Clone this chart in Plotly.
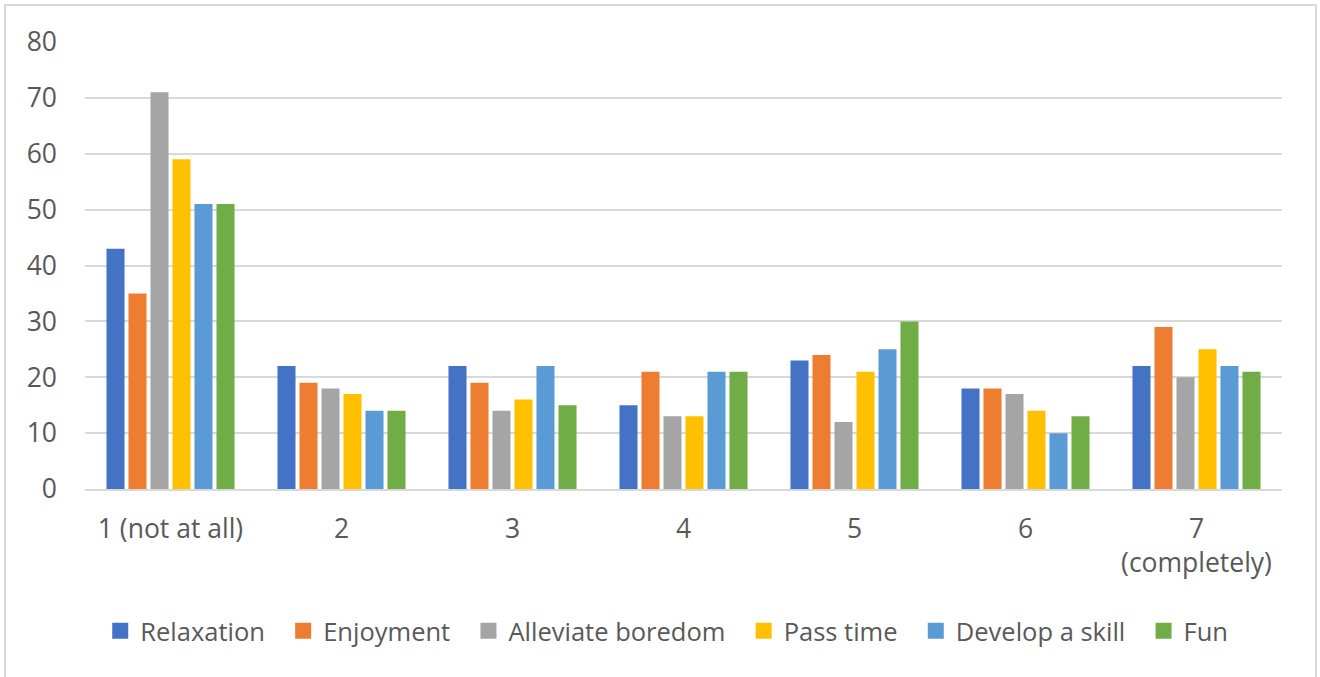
import plotly.graph_objects as go

categories = ["1 (not at all)", "2", "3", "4", "5", "6", "7<br>(completely)"]
series_names = ["Relaxation", "Enjoyment", "Alleviate boredom", "Pass time", "Develop a skill", "Fun"]
relaxation = [43, 22, 22, 15, 23, 18, 22]
enjoyment = [35, 19, 19, 21, 24, 18, 29]
alleviate_boredom = [71, 18, 14, 13, 12, 17, 20]
pass_time = [59, 17, 16, 13, 21, 14, 25]
develop_skill = [51, 14, 22, 21, 25, 10, 22]
fun = [51, 14, 15, 21, 30, 13, 21]
y_ticks = [0, 10, 20, 30, 40, 50, 60, 70, 80]

series_values = [relaxation, enjoyment, alleviate_boredom, pass_time, develop_skill, fun]
colors = ["#4472C4", "#ED7D31", "#A5A5A5", "#FFC000", "#5B9BD5", "#70AD47"]

FONT = "Open Sans"
TXT = "#595959"
FS = 26.5

fig = go.Figure()
for name, vals, c in zip(series_names, series_values, colors):
    fig.add_trace(go.Bar(x=categories, y=vals, name=name, marker_color=c,
                         marker_line_width=0, showlegend=False, legendgroup=name))
# legend entries with larger square swatches
n = len(series_names)
for i, (name, c) in enumerate(zip(series_names, colors)):
    label = name + ("\u00a0\u00a0" if i < n - 1 else "")
    fig.add_trace(go.Scatter(x=[None], y=[None], mode="markers", name=label,
                             marker=dict(symbol="square", size=16, color=c),
                             legendgroup=name, showlegend=True))

fig.update_layout(
    width=1320, height=677,
    margin=dict(l=85, r=38, t=42, b=188),
    paper_bgcolor="white", plot_bgcolor="white",
    barmode="group", bargap=0.228, bargroupgap=0.18,
    font=dict(family=FONT, size=FS, color=TXT),
    showlegend=True,
    legend=dict(orientation="h", x=0.486, xanchor="center", y=-0.318, yanchor="middle",
                font=dict(family=FONT, size=25.5, color=TXT), itemsizing="trace",
                traceorder="normal", itemwidth=30),
    shapes=[dict(type="rect", xref="paper", yref="paper",
                 x0=-80/1197, x1=1231/1197, y0=-200/447, y1=1+37/447,
                 line=dict(color="#D9D9D9", width=2), fillcolor="rgba(0,0,0,0)", layer="below")],
)
fig.update_xaxes(showgrid=False, showline=True, linecolor="#D9D9D9", linewidth=2,
                 ticks="", tickfont=dict(family=FONT, size=FS, color=TXT),
                 ticklabelstandoff=15)
fig.update_yaxes(range=[0, 80], tickvals=y_ticks, showgrid=True, gridcolor="#D9D9D9",
                 gridwidth=2, zeroline=False, showline=False, ticks="",
                 tickfont=dict(family=FONT, size=FS, color=TXT), ticklabelstandoff=27)

fig.write_html("out.html")
